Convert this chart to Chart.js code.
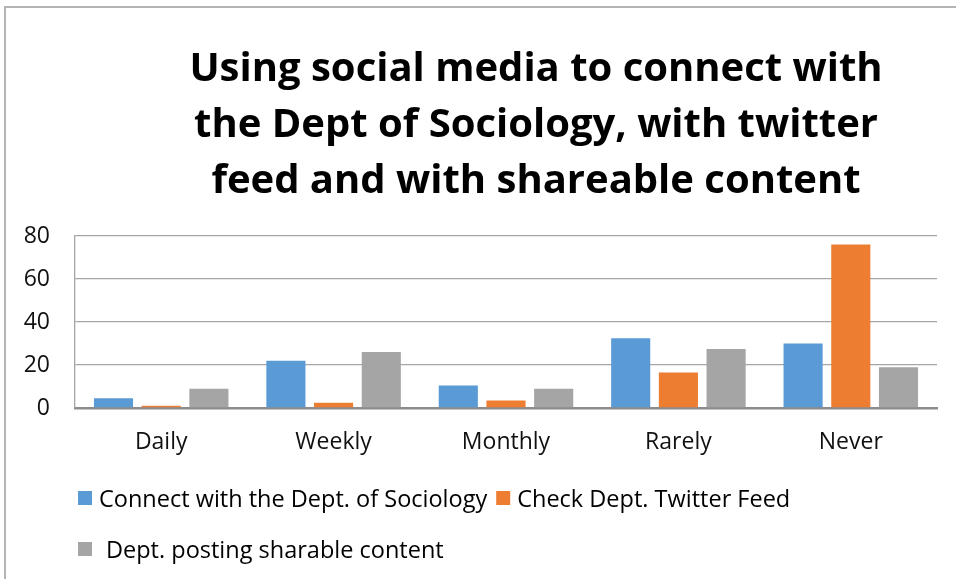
<!DOCTYPE html>
<html>
<head>
<meta charset="utf-8">
<script src="https://cdn.jsdelivr.net/npm/chart.js@4"></script>
<style>
  html, body { margin: 0; padding: 0; background: #fff; width: 956px; height: 579px; overflow: hidden; }
  #wrap { position: absolute; left: 0; top: 0; width: 1072px; height: 579px; }
  #frame { position: absolute; left: 4px; top: 6px; width: 1100px; height: 700px; border: 2px solid #b4b4b4; pointer-events: none; }
</style>
</head>
<body>
<div id="wrap"><canvas id="chart"></canvas></div>
<div id="frame"></div>
<script>
// Survey responses (percent of respondents)
const categories = ['Daily', 'Weekly', 'Monthly', 'Rarely', 'Never'];
const connectDept = [4.5, 22, 10.5, 32.5, 30];
const checkTwitter = [1, 2.5, 3.5, 16.5, 76];
const sharableContent = [9, 26, 9, 27.5, 19];
const seriesLabels = [
  'Connect with the Dept. of Sociology',
  'Check Dept. Twitter Feed',
  'Dept. posting sharable content'
];
const titleLines = [
  'Using social media to connect with',
  'the Dept of Sociology, with twitter',
  'feed and with shareable content'
];
const yTickValues = [0, 20, 40, 60, 80];

const colors = ['#5B9BD5', '#ED7D31', '#A5A5A5'];
const FONT = 'Open Sans';

// Legend laid out in two rows, left aligned under the plot
const legendRows = [[0, 1], [2]];
const rowLegend = {
  id: 'rowLegend',
  afterDraw(chart) {
    const ctx = chart.ctx;
    const rowY = [498, 549];
    ctx.save();
    ctx.font = '23.5px "' + FONT + '"';
    ctx.textBaseline = 'middle';
    ctx.textAlign = 'left';
    legendRows.forEach((row, r) => {
      let x = 78;
      row.forEach(i => {
        const ds = chart.data.datasets[i];
        ctx.fillStyle = ds.backgroundColor;
        ctx.fillRect(x, rowY[r] - 7, 14, 14);
        x += r === 1 ? 28 : 21;
        ctx.fillStyle = '#000';
        ctx.fillText(ds.label, x, rowY[r] + 2);
        x += ctx.measureText(ds.label).width + 9;
      });
    });
    ctx.restore();
  }
};

new Chart(document.getElementById('chart'), {
  type: 'bar',
  data: {
    labels: categories,
    datasets: [
      { label: seriesLabels[0], data: connectDept, backgroundColor: colors[0] },
      { label: seriesLabels[1], data: checkTwitter, backgroundColor: colors[1] },
      { label: seriesLabels[2], data: sharableContent, backgroundColor: colors[2] }
    ]
  },
  options: {
    responsive: true,
    maintainAspectRatio: false,
    animation: false,
    layout: { padding: { left: 0, top: 0, right: 0, bottom: 121 } },
    datasets: { bar: { categoryPercentage: 0.83, barPercentage: 0.82, borderWidth: 0 } },
    plugins: {
      legend: { display: false },
      tooltip: { enabled: false },
      title: {
        display: true,
        text: titleLines,
        color: '#000',
        font: { family: FONT, size: 40, weight: 'bold', lineHeight: 1.4 },
        padding: { top: 42, bottom: 26 }
      }
    },
    scales: {
      x: {
        grid: { display: false, drawTicks: false },
        border: { display: true, color: '#8c8c8c', width: 2.5 },
        ticks: { color: '#111', font: { family: FONT, size: 23 }, padding: 21 },
        afterFit(scale) { scale.height = 50; }
      },
      y: {
        min: 0,
        max: 80,
        afterBuildTicks(scale) { scale.ticks = yTickValues.map(v => ({ value: v })); },
        grid: { color: '#a6a6a6', lineWidth: 1.3, drawTicks: false },
        border: { display: true, color: '#a6a6a6', width: 1.3 },
        ticks: { color: '#111', font: { family: FONT, size: 23 }, padding: 25 },
        afterFit(scale) { scale.width = 75; }
      },
      // empty margin on the right side of the plot area
      yRight: {
        position: 'right',
        min: 0,
        max: 80,
        grid: { display: false, drawTicks: false },
        border: { display: false },
        ticks: { display: false },
        afterFit(scale) { scale.width = 135; }
      }
    }
  },
  plugins: [rowLegend]
});
</script>
</body>
</html>
